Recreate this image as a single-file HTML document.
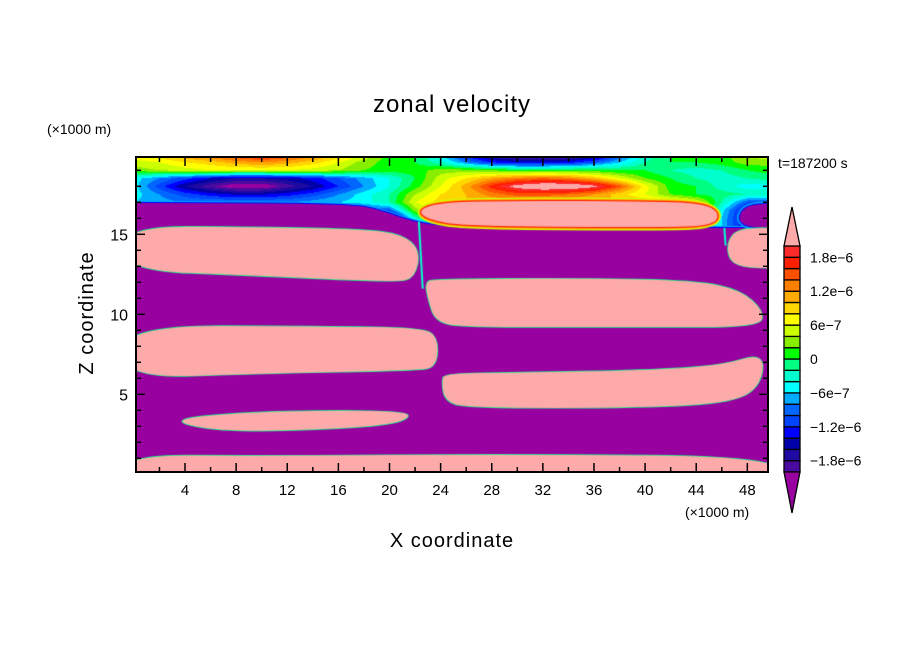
<!DOCTYPE html>
<html><head><meta charset="utf-8"><style>
body{margin:0;background:#fff;width:904px;height:654px;overflow:hidden;font-family:"Liberation Sans",sans-serif}
#wrap{position:relative;width:904px;height:654px}
canvas,svg{position:absolute;left:0;top:0}
</style></head><body><div id="wrap">
<canvas id="cv" width="904" height="654"></canvas>
<svg id="sv" width="904" height="654"></svg>
</div>
<script>
// ---- data ----
const xCols=[0,2,4,6,8,10,12,14,16,18,20,22,24,26,28,30,32,34,36,38,40,42,44,46,48,50];
const zRows=[19.85,19.5,19.0,18.5,18.0,17.5,17.0,16.5,16.0,15.5];
const fieldRow0=[0.7,0.9,1.1,1.3,1.5,1.7,1.5,1.2,0.9,0.5,0.1,0.0,-0.5,-1.2,-1.7,-1.9,-1.95,-1.9,-1.6,-0.9,-0.3,0.0,0.0,0.1,0.4,0.5];
const fieldRow1=[0.5,0.6,0.8,0.9,1.1,1.2,1.1,0.9,0.6,0.3,0.1,0.0,-0.3,-0.8,-1.2,-1.4,-1.4,-1.3,-1.0,-0.6,-0.2,0.0,0.0,0.1,0.3,0.3];
const fieldRow2=[0.3,0.4,0.5,0.6,0.6,0.6,0.6,0.5,0.4,0.2,0.1,0.1,0.3,0.3,0.2,0.1,0.1,0.1,0.1,0.0,0.0,-0.2,-0.3,-0.2,0.0,0.1];
const fieldRow3=[-0.5,-0.8,-1.1,-1.4,-1.6,-1.6,-1.5,-1.3,-1.0,-0.7,-0.4,0.0,0.5,0.8,1.1,1.3,1.4,1.3,1.0,0.6,0.2,0.0,-0.2,-0.3,-0.2,-0.1];
const fieldRow4=[-0.5,-1.1,-1.6,-1.95,-2.2,-2.2,-1.9,-1.6,-1.2,-0.8,-0.4,0.1,0.6,1.1,1.7,2.15,2.35,2.35,2.1,1.5,0.7,0.1,0.0,-0.3,-0.5,-0.5];
const fieldRow5=[-0.5,-0.8,-1.1,-1.3,-1.45,-1.45,-1.3,-1.1,-0.8,-0.5,-0.2,0.4,0.8,1.0,1.3,1.5,1.5,1.4,1.2,0.9,0.6,0.2,0.0,-0.1,-0.2,-0.2];
const fieldRow6=[-0.6,-0.7,-0.8,-0.8,-0.8,-0.8,-0.8,-0.7,-0.6,-0.5,-0.2,0.6,0.9,1.0,1.0,1.0,1.0,1.0,1.0,1.0,1.0,0.9,0.6,-0.2,-1.0,-1.0];
const fieldRow7=[-1.2,-1.2,-1.2,-1.2,-1.2,-1.2,-1.2,-1.2,-1.2,-1.1,-1.0,0.3,0.8,1.0,1.0,1.0,1.0,1.0,1.0,1.0,1.0,1.0,0.8,-0.5,-1.5,-1.5];
const fieldRow8=[-2.5,-2.5,-2.5,-2.5,-2.5,-2.5,-2.5,-2.5,-2.5,-2.5,-2.0,-0.3,0.3,0.6,0.8,0.8,0.8,0.8,0.8,0.8,0.8,0.8,0.6,-0.6,-1.5,-1.5];
const fieldRow9=[-2.5,-2.5,-2.5,-2.5,-2.5,-2.5,-2.5,-2.5,-2.5,-2.5,-2.5,-1.0,-0.6,-0.3,0.0,0.0,0.0,0.0,0.0,0.0,0.0,0.0,0.0,-0.6,-1.5,-1.5];
const fieldRows=[fieldRow0,fieldRow1,fieldRow2,fieldRow3,fieldRow4,fieldRow5,fieldRow6,fieldRow7,fieldRow8,fieldRow9];
const levelColors=["#4b0aa0","#1e0aa0","#0000aa","#0000ff","#0044ff","#0066ff","#00aaff","#00ffff","#00ffcc","#00ff80","#00ff00","#88ee00","#ccff00","#ffff00","#ffd700","#ffaa00","#ff7f00","#ff5000","#ff2000","#ff2a2a"];
const colorbarLabels=["1.8e-6","1.2e-6","6e-7","0","-6e-7","-1.2e-6","-1.8e-6"];
const colorbarLabelValues=[1.8,1.2,0.6,0,-0.6,-1.2,-1.8];
const xTicks=[4,8,12,16,20,24,28,32,36,40,44,48];
const zTicks=[5,10,15];
const PINK="#ffaaaa",PURPLE="#9900a0";
// blob outlines (x km, z km)
const blobTopLeft=[[-1,15.5],[10,15.45],[18,15.3],[21,15.0],[22.4,14.0],[22.0,12.3],[20.5,12.0],[10,12.4],[-1,12.75]];
const blobTopRight=[[22.2,16.5],[24,17.0],[30,17.1],[40,17.05],[44.5,16.95],[45.9,16.3],[45.2,15.5],[40,15.45],[26,15.5],[23,15.9]];
const blobRightSmall=[[51,15.4],[47.3,15.4],[46.4,14.5],[46.6,13.3],[48,12.9],[51,12.9]];
const blobMidRight=[[22.8,12.0],[23.5,12.2],[35,12.25],[44,12.1],[47.5,11.5],[49.3,10.2],[49.0,9.2],[40,9.2],[26,9.2],[23.6,9.5],[23.0,11.0]];
const blobMidLeft=[[-1,9.3],[15,9.25],[22.5,9.15],[23.8,8.6],[23.7,6.7],[22,6.5],[10,6.3],[-1,6.0]];
const blobLowRight=[[24.3,6.3],[30,6.35],[40,6.5],[46,6.8],[49.3,7.6],[49.1,5.6],[47,4.5],[40,4.15],[26,4.15],[24.3,4.6],[24.1,5.8]];
const blobLens=[[2.8,3.4],[8,3.85],[16,4.0],[21,3.9],[21.7,3.6],[20,3.05],[12,2.7],[6,2.75]];
const blobBottom=[[-1,1.2],[10,1.15],[30,1.25],[51,1.1],[51,-1],[-1,-1]];
const purpleTopEdge=[[-1,16.95],[10,16.95],[17,16.85],[19,16.6],[21,16.0],[23,15.6],[26,15.45],[45,15.4],[51,15.4]];
const purpleSmall=[[47.2,16.0],[48,16.9],[51,16.9],[51,15.4],[48,15.4]];

// ---- axes ----
const L=136,R=768,T=157,B=472;
const X=x=>133.9+12.78*x, Z=z=>474.3-16*z;
const invX=p=>(p-133.9)/12.78, invZ=p=>(474.3-p)/16;

const cv=document.getElementById('cv'),ctx=cv.getContext('2d');
ctx.fillStyle=PURPLE;ctx.fillRect(L,T,R-L,B-T);
function interp(x,z){
  let i=Math.max(0,Math.min(xCols.length-2,Math.floor(x/2)));
  let tx=Math.max(0,Math.min(1,(x-xCols[i])/(xCols[i+1]-xCols[i])));
  let j=0;while(j<zRows.length-2&&z<zRows[j+1])j++;
  let tz=Math.max(0,Math.min(1,(zRows[j]-z)/(zRows[j]-zRows[j+1])));
  const a=fieldRows[j][i]*(1-tx)+fieldRows[j][i+1]*tx;
  const b=fieldRows[j+1][i]*(1-tx)+fieldRows[j+1][i+1]*tx;
  return a*(1-tz)+b*tz;
}
function col(v){if(v>=2)return PINK;if(v<-2)return PURPLE;return levelColors[Math.min(19,Math.floor((v+2)/0.2))];}
for(let py=T;py<Z(zRows[zRows.length-1]);py++){
  for(let px=L;px<R;px++){
    ctx.fillStyle=col(interp(invX(px+0.5),invZ(py+0.5)));
    ctx.fillRect(px,py,1,1);
  }
}
ctx.save();ctx.beginPath();ctx.rect(L,T,R-L,B-T);ctx.clip();
function smooth(pts){
  const p=pts.map(q=>[X(q[0]),Z(q[1])]);const n=p.length;
  ctx.beginPath();
  const m=(a,b)=>[(a[0]+b[0])/2,(a[1]+b[1])/2];
  let s=m(p[n-1],p[0]);ctx.moveTo(s[0],s[1]);
  for(let k=0;k<n;k++){const e=m(p[k],p[(k+1)%n]);ctx.quadraticCurveTo(p[k][0],p[k][1],e[0],e[1]);}
  ctx.closePath();
}
// purple region
(function(){const p=purpleTopEdge.map(q=>[X(q[0]),Z(q[1])]);ctx.beginPath();ctx.moveTo(p[0][0],p[0][1]);
for(let k=1;k<p.length-1;k++){const e=[(p[k][0]+p[k+1][0])/2,(p[k][1]+p[k+1][1])/2];ctx.quadraticCurveTo(p[k][0],p[k][1],e[0],e[1]);}
ctx.lineTo(p[p.length-1][0],p[p.length-1][1]);ctx.lineTo(R+20,B+20);ctx.lineTo(L-20,B+20);ctx.closePath();
ctx.strokeStyle="#00aaff";ctx.lineWidth=4;ctx.stroke();ctx.strokeStyle="#0000ff";ctx.lineWidth=2;ctx.stroke();ctx.fillStyle=PURPLE;ctx.fill();})();
smooth(purpleSmall);ctx.strokeStyle="#00aaff";ctx.lineWidth=5;ctx.stroke();ctx.strokeStyle="#0000ff";ctx.lineWidth=2;ctx.stroke();ctx.fillStyle=PURPLE;ctx.fill();
// connecting thread
ctx.strokeStyle="#00ffcc";ctx.lineWidth=2;ctx.beginPath();ctx.moveTo(X(22.3),Z(15.8));ctx.lineTo(X(22.6),Z(11.6));ctx.stroke();
ctx.beginPath();ctx.moveTo(X(46.2),Z(15.4));ctx.lineTo(X(46.3),Z(14.3));ctx.stroke();
// top-right blob with fringe
smooth(blobTopRight);
[[7,"#ccff00"],[5,"#ffd700"],[3.5,"#ff7f00"],[2,"#ff2000"]].forEach(s=>{ctx.lineWidth=s[0];ctx.strokeStyle=s[1];ctx.stroke();});
ctx.fillStyle=PINK;ctx.fill();
[blobTopLeft,blobRightSmall,blobMidRight,blobMidLeft,blobLowRight,blobLens,blobBottom].forEach(b=>{
  smooth(b);ctx.lineWidth=1.4;ctx.strokeStyle="#00ff80";ctx.stroke();ctx.fillStyle=PINK;ctx.fill();
});
ctx.restore();

// ---- SVG overlay ----
const NS="http://www.w3.org/2000/svg",sv=document.getElementById('sv');
function el(tag,attrs,txt){const e=document.createElementNS(NS,tag);for(const k in attrs)e.setAttribute(k,attrs[k]);if(txt!==undefined)e.textContent=txt;sv.appendChild(e);return e;}
let e;
e=el('rect',{x:L,y:T,width:R-L,height:B-T,fill:'none',stroke:'#000','stroke-width':2});

for(let x=2;x<=48;x+=2){const maj=x%4===0;const len=maj?9:5;
  e=el('line',{x1:X(x),x2:X(x),y1:B,y2:B-len,stroke:'#000','stroke-width':1.5});
  
  e=el('line',{x1:X(x),x2:X(x),y1:T,y2:T+len,stroke:'#000','stroke-width':1.5});
  }
for(let z=1;z<=19;z++){const len=z%5===0?9:5;
  e=el('line',{x1:L,x2:L+len,y1:Z(z),y2:Z(z),stroke:'#000','stroke-width':1.5});
  
  e=el('line',{x1:R,x2:R-len,y1:Z(z),y2:Z(z),stroke:'#000','stroke-width':1.5});
  }
xTicks.forEach(v=>{e=el('text',{x:X(v),y:495,'text-anchor':'middle','font-size':15,fill:'#000'},String(v));
  });
zTicks.forEach(v=>{e=el('text',{x:128,y:Z(v)+6,'text-anchor':'end','font-size':16,fill:'#000'},String(v));
  });
e=el('text',{x:452,y:112,'text-anchor':'middle','font-size':24,fill:'#000','letter-spacing':1},'zonal velocity');

e=el('text',{x:47,y:134,'font-size':14,fill:'#000'},'(×1000 m)');

e=el('text',{x:685,y:517,'font-size':14,fill:'#000'},'(×1000 m)');

e=el('text',{x:452,y:547,'text-anchor':'middle','font-size':20,fill:'#000','letter-spacing':1},'X coordinate');

e=el('text',{x:0,y:0,'text-anchor':'middle','font-size':20,fill:'#000','letter-spacing':1,transform:'translate(93,313) rotate(-90)'},'Z coordinate');

e=el('text',{x:778,y:168,'font-size':14,fill:'#000'},'t=187200 s');

// colorbar
const cbX=784,cbW=16,cbTop=246,cbBot=472,bh=(cbBot-cbTop)/20;
const CB=v=>cbBot-(v+2)/4*(cbBot-cbTop);
levelColors.forEach((c,i)=>{e=el('rect',{x:cbX,y:cbBot-(i+1)*bh,width:cbW,height:bh,fill:c,stroke:'#000','stroke-width':1.3});
  });
e=el('polygon',{points:`${cbX},${cbTop} ${cbX+cbW},${cbTop} ${cbX+cbW/2},207`,fill:PINK,stroke:'#000','stroke-width':1.3});

e=el('polygon',{points:`${cbX},${cbBot} ${cbX+cbW},${cbBot} ${cbX+cbW/2},513`,fill:PURPLE,stroke:'#000','stroke-width':1.3});

colorbarLabels.forEach((t,i)=>{e=el('text',{x:810,y:CB(colorbarLabelValues[i])+5,'font-size':14,fill:'#000'},t.replace(/-/g,'−'));
  });
</script></body></html>
